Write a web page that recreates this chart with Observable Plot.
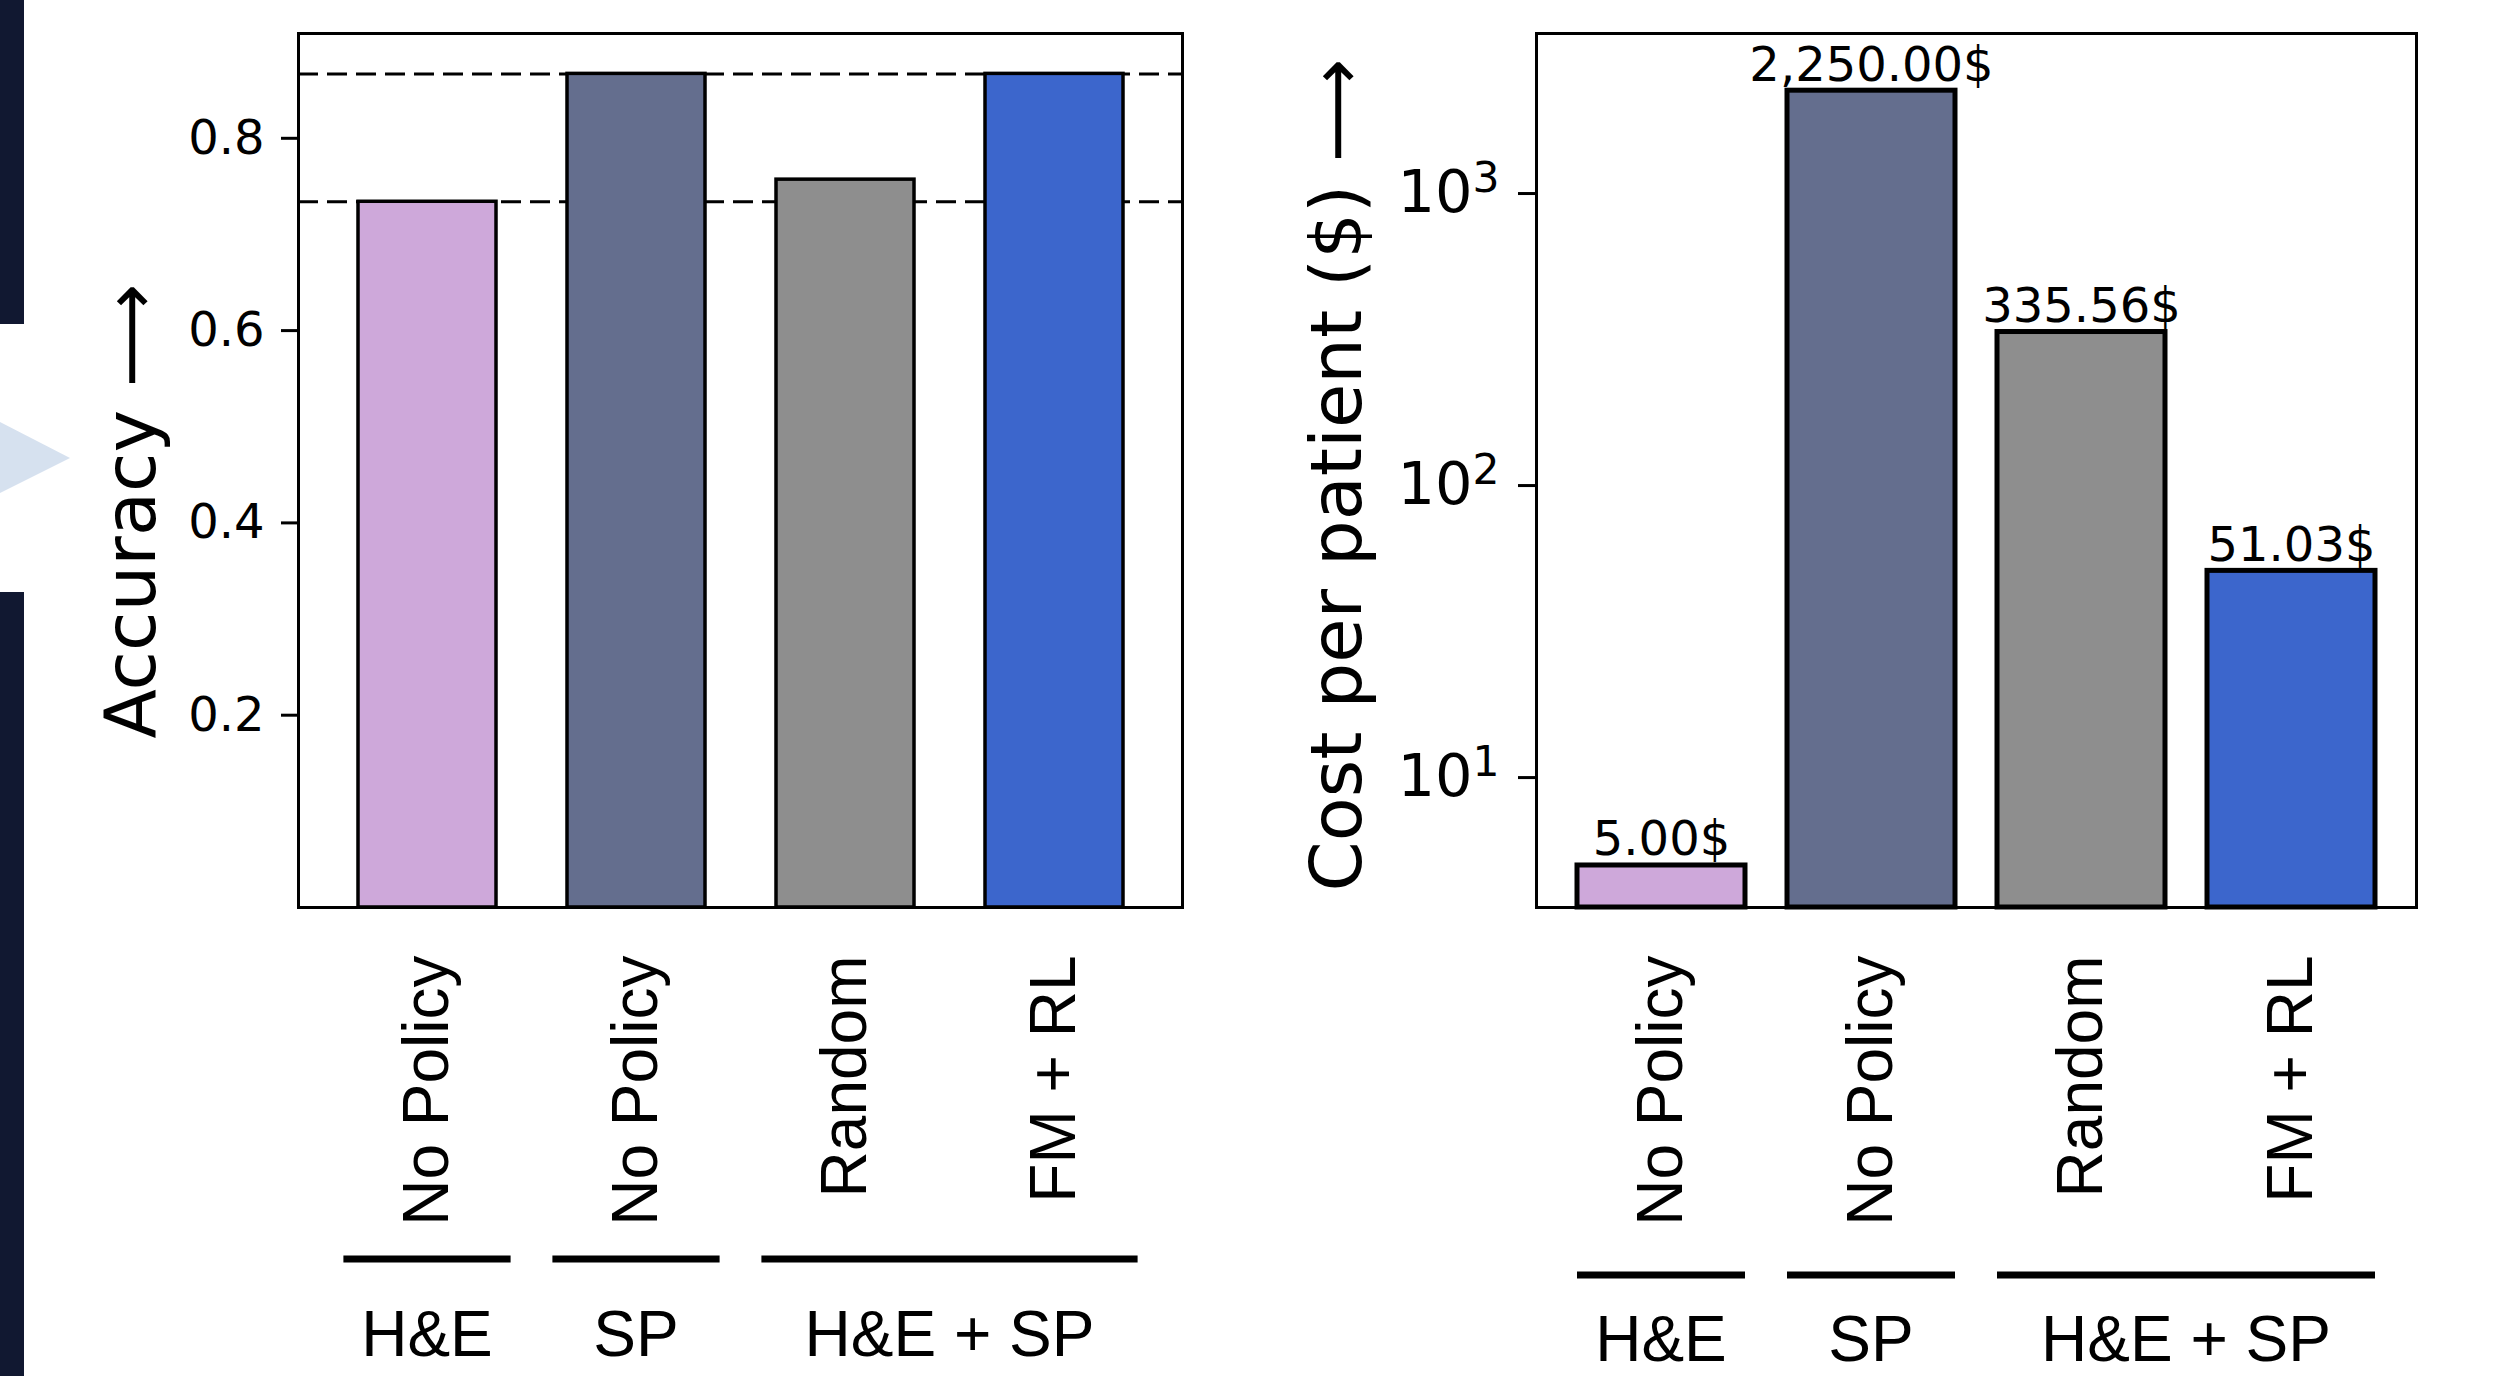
<!DOCTYPE html>
<html><head><meta charset="utf-8">
<script src="https://cdn.jsdelivr.net/npm/d3@7"></script>
<script src="https://cdn.jsdelivr.net/npm/@observablehq/plot@0.6"></script>
<style>
html,body{margin:0;padding:0;background:#fff;}
#page{position:relative;width:2509px;height:1376px;overflow:hidden;background:#fff;}
#left,#right{position:absolute;top:0;}
#left{left:0;} #right{left:1250px;}
.deco{position:absolute;z-index:2;}
</style></head><body>
<div id="page">
  <div id="left"></div><div id="right"></div>
  <div class="deco" style="left:0;top:0;width:24px;height:324px;background:#111831"></div>
  <div class="deco" style="left:0;top:592px;width:24px;height:784px;background:#111831"></div>
  <svg class="deco" style="left:0;top:0" width="80" height="600"><polygon points="0,422 70,458 0,493" fill="#D6E1EF"/></svg>
</div>
<script>
// ---- data ----
const methods = ["No Policy", "No Policy", "Random", "FM + RL"];
const modalities = ["H&E", "SP", "H&E + SP", "H&E + SP"];
const accuracy = [0.734, 0.867, 0.757, 0.867];
const cost = [5.00, 2250.00, 335.56, 51.03];
const referenceAccuracy = [0.867, 0.734];
const barColors = ["#CEA8DA", "#646E8E", "#8E8E8E", "#3C66CC"];
const accuracyTicks = [0.2, 0.4, 0.6, 0.8];
const costTicks = [10, 100, 1000];
const groupLabels = ["H&E", "SP", "H&E + SP"];
const accuracyDomain = [0, 0.909];
const costDomain = [3.59, 3532];
const accuracyLabel = "Accuracy \u27F6";
const costLabel = "Cost per patient ($) \u27F6";

const keys = methods.map((m, i) => i);
const rows = keys.map(i => ({key: i, method: methods[i], modality: modalities[i],
  accuracy: accuracy[i], cost: cost[i], color: barColors[i]}));

const DV = "'DejaVu Sans', sans-serif";
const LS = "'Liberation Sans', Arial, sans-serif";
const baseStyle = {fontFamily: DV, fontSize: "48px", background: "transparent", overflow: "visible", maxWidth: "none"};

const left = Plot.plot({
  width: 1250, height: 1376, marginLeft: 298, marginRight: 68, marginTop: 33, marginBottom: 469,
  style: baseStyle,
  color: {type: "identity"},
  x: {type: "band", domain: keys, paddingInner: 0.34, paddingOuter: 0.28, axis: null},
  y: {domain: accuracyDomain},
  marks: [
    Plot.ruleY(referenceAccuracy, {stroke: "#000", strokeWidth: 3, strokeDasharray: "20,9"}),
    Plot.barY(rows, {x: "key", y: "accuracy", fill: "color", stroke: "#000", strokeWidth: 3.5}),
    Plot.axisY({ticks: accuracyTicks, tickSize: 17, tickPadding: 17, strokeWidth: 3, fontSize: 48, fontFamily: DV, label: null}),
    Plot.text(rows, {x: "key", text: "method", frameAnchor: "bottom", rotate: -90, textAnchor: "end",
      lineAnchor: "middle", dy: 48, fontSize: 64, fontFamily: LS}),
    Plot.text([accuracyLabel], {frameAnchor: "bottom-left", rotate: -90, textAnchor: "start",
      lineAnchor: "bottom", dx: -144, dy: -169, fontSize: 72, fontFamily: DV}),
    Plot.frame({stroke: "#000", strokeWidth: 3})
  ]
});

const right = Plot.plot({
  width: 1259, height: 1376, marginLeft: 286, marginRight: 93, marginTop: 33, marginBottom: 469,
  style: baseStyle,
  color: {type: "identity"},
  x: {type: "band", domain: keys, paddingInner: 0.2, paddingOuter: 0.19, axis: null},
  y: {type: "log", domain: costDomain},
  marks: [
    Plot.barY(rows, {x: "key", y1: costDomain[0], y2: "cost", fill: "color", stroke: "#000", strokeWidth: 5}),
    Plot.text(rows, {x: "key", y: "cost", text: d => d3.format(",.2f")(d.cost) + "$",
      lineAnchor: "bottom", dy: -10, fontSize: 48, fontFamily: DV}),
    Plot.axisY({ticks: costTicks, tickSize: 18, tickPadding: 19, strokeWidth: 3, fontSize: 59, fontFamily: DV,
      tickFormat: d => "10^" + Math.round(Math.log10(d)), label: null}),
    Plot.text(rows, {x: "key", text: "method", frameAnchor: "bottom", rotate: -90, textAnchor: "end",
      lineAnchor: "middle", dy: 48, fontSize: 64, fontFamily: LS}),
    Plot.text([costLabel], {frameAnchor: "bottom-left", rotate: -90, textAnchor: "start",
      lineAnchor: "bottom", dx: -176, dy: -16, fontSize: 72, fontFamily: DV}),
    Plot.frame({stroke: "#000", strokeWidth: 3})
  ]
});

// superscript exponents on log ticks
d3.select(right).selectAll('g[aria-label="y-axis tick label"] text').each(function() {
  const t = this.textContent;
  if (!t.includes("^")) return;
  const [b, e] = t.split("^");
  const s = d3.select(this);
  s.text(null);
  s.append("tspan").text(b);
  s.append("tspan").attr("dy", "-0.48em").attr("font-size", "0.72em").text(e);
});

function addGroups(svg, lineY, textY) {
  const xs = svg.scale("x");
  const bw = xs.bandwidth;
  const step = xs.step || (xs.apply(1) - xs.apply(0));
  const center = k => xs.apply(k) + bw / 2;
  const g = d3.select(svg).append("g").attr("aria-label", "groups");
  groupLabels.forEach(label => {
    const members = keys.filter(k => modalities[k] === label);
    const x1 = center(members[0]) - 0.4 * step;
    const x2 = center(members[members.length - 1]) + 0.4 * step;
    g.append("line").attr("x1", x1).attr("x2", x2).attr("y1", lineY).attr("y2", lineY)
      .attr("stroke", "#000").attr("stroke-width", 7);
    g.append("text").attr("x", (x1 + x2) / 2).attr("y", textY).attr("text-anchor", "middle")
      .attr("font-family", LS).attr("font-size", 64).attr("fill", "#000").text(label);
  });
}
addGroups(left, 1259, 1356);
addGroups(right, 1275, 1361);

document.getElementById("left").appendChild(left);
document.getElementById("right").appendChild(right);
</script>
</body></html>
